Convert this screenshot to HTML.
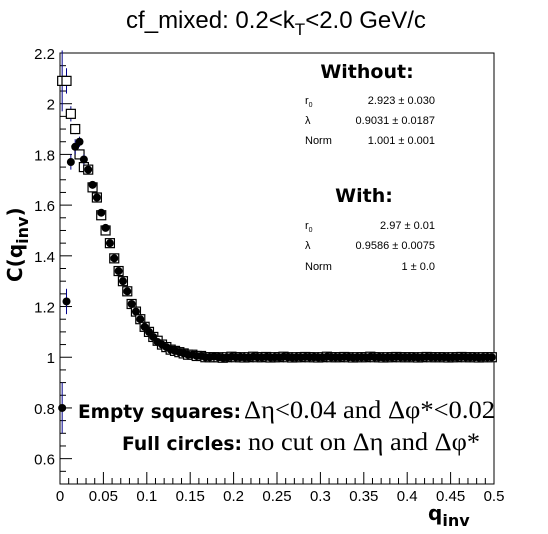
<!DOCTYPE html>
<html><head><meta charset="utf-8"><style>
body{margin:0;background:#fff;}
svg{display:block;font-family:"Liberation Sans",sans-serif;}
</style></head><body>
<svg id="chart" width="548" height="534" viewBox="0 0 548 534" xmlns="http://www.w3.org/2000/svg">
<rect width="548" height="534" fill="#fff"/>
<text x="276" y="28" font-size="24" text-anchor="middle">cf_mixed: 0.2&lt;k<tspan font-size="17" dy="7">T</tspan><tspan dy="-7">&lt;2.0 GeV/c</tspan></text>
<g id="axes"></g>
<g id="marks"></g>
<g font-size="11">
<text x="367" y="78" font-size="19" font-weight="bold" text-anchor="middle" font-family="DejaVu Sans, sans-serif">Without:</text>
<text x="305" y="104">r<tspan font-size="7" dy="3">0</tspan></text><text x="435" y="104" text-anchor="end">2.923 ± 0.030</text>
<text x="305" y="124">λ</text><text x="435" y="124" text-anchor="end">0.9031 ± 0.0187</text>
<text x="305" y="144">Norm</text><text x="435" y="144" text-anchor="end">1.001 ± 0.001</text>
<text x="364" y="202" font-size="19" font-weight="bold" text-anchor="middle" font-family="DejaVu Sans, sans-serif">With:</text>
<text x="305" y="229">r<tspan font-size="7" dy="3">0</tspan></text><text x="435" y="229" text-anchor="end">2.97 ± 0.01</text>
<text x="305" y="249">λ</text><text x="435" y="249" text-anchor="end">0.9586 ± 0.0075</text>
<text x="305" y="270">Norm</text><text x="435" y="270" text-anchor="end">1 ± 0.0</text>
</g>
<g>
<text x="78" y="418" font-size="18.8" font-weight="bold" textLength="163" lengthAdjust="spacingAndGlyphs" font-family="DejaVu Sans, sans-serif">Empty squares:</text>
<text x="244" y="418" font-size="25" textLength="251" lengthAdjust="spacingAndGlyphs" font-family="Liberation Serif, serif">Δη&lt;0.04 and Δφ*&lt;0.02</text>
<text x="122" y="450" font-size="18.8" font-weight="bold" textLength="120" lengthAdjust="spacingAndGlyphs" font-family="DejaVu Sans, sans-serif">Full circles:</text>
<text x="248" y="450" font-size="25" textLength="232" lengthAdjust="spacingAndGlyphs" font-family="Liberation Serif, serif">no cut on Δη and Δφ*</text>
</g>
<text x="428" y="520" font-size="20" font-weight="bold" font-family="DejaVu Sans, sans-serif">q<tspan font-size="16" dy="6">inv</tspan></text>
<text transform="translate(22,282) rotate(-90)" font-size="20" font-weight="bold" font-family="DejaVu Sans, sans-serif">C(q<tspan font-size="16" dy="6">inv</tspan><tspan dy="-6">)</tspan></text>
</svg>
<script>
const xTicks=[0,0.05,0.1,0.15,0.2,0.25,0.3,0.35,0.4,0.45,0.5];
const xTickLabels=["0","0.05","0.1","0.15","0.2","0.25","0.3","0.35","0.4","0.45","0.5"];
const yTicks=[0.6,0.8,1,1.2,1.4,1.6,1.8,2,2.2];
const yTickLabels=["0.6","0.8","1","1.2","1.4","1.6","1.8","2","2.2"];
const binWidth=0.005;
const circles=[0.80,1.22,1.77,1.83,1.85,1.78,1.74,1.68,1.63,1.57,1.51,1.45,1.39,1.34,1.30,1.26,1.21,1.18,1.15,1.12,1.10,1.08,1.06,1.05,1.04,1.03,1.025,1.02,1.015,1.01,1.01,1.005,1.005,1.0,1.0,1.003,1.0,0.998,1.0,1.002,1.0,1.0,0.999,1.0,1.002,1.0,1.0,1.001,0.999,1.0,1.0,1.002,1.0,0.999,1.0,1.0,1.001,1.0,1.0,0.999,1.0,1.002,1.0,1.0,1.0,1.001,1.0,0.999,1.0,1.0,1.0,1.002,1.0,1.0,0.999,1.0,1.0,1.001,1.0,1.0,1.0,1.0,0.999,1.0,1.001,1.0,1.0,1.0,1.0,0.999,1.0,1.0,1.001,1.0,1.0,1.0,0.999,1.0,1.0,1.0];
const circleErr=[0.10,0.05,0.03,0.03,0.02,0.02,0.015,0.01,0.01,0.01];
const squares=[2.09,2.09,1.96,1.90,1.80,1.75,1.74,1.67,1.63,1.56,1.50,1.45,1.39,1.34,1.30,1.26,1.21,1.18,1.15,1.12,1.10,1.08,1.065,1.05,1.04,1.03,1.025,1.02,1.015,1.01,1.01,1.005,1.005,1.0,1.0,1.0,1.0,0.998,1.0,1.002,1.0,1.0,0.999,1.0,1.002,1.0,1.0,1.001,0.999,1.0,1.0,1.002,1.0,0.999,1.0,1.0,1.001,1.0,1.0,0.999,1.0,1.002,1.0,1.0,1.0,1.001,1.0,0.999,1.0,1.0,1.0,1.002,1.0,1.0,0.999,1.0,1.0,1.001,1.0,1.0,1.0,1.0,0.999,1.0,1.001,1.0,1.0,1.0,1.0,0.999,1.0,1.0,1.001,1.0,1.0,1.0,0.999,1.0,1.0,1.0];
const squareErr=[0.12,0.05,0.03,0.02,0.02,0.015,0.01,0.01];
const X0=60,X1=494,Y0=484,Y1=53,xmin=0,xmax=0.5,ymin=0.5,ymax=2.2;
function xs(v){return X0+(v-xmin)/(xmax-xmin)*(X1-X0);}
function ys(v){return Y0-(v-ymin)/(ymax-ymin)*(Y0-Y1);}
const NS="http://www.w3.org/2000/svg";
function mk(tag,attrs,parent){const e=document.createElementNS(NS,tag);for(const k in attrs)e.setAttribute(k,attrs[k]);parent.appendChild(e);return e;}
const ax=document.getElementById('axes');
const frame=mk('rect',{x:X0,y:Y1,width:X1-X0,height:Y0-Y1,fill:'none',stroke:'#000','stroke-width':1},ax);


for(let i=0;i<=50;i++){const v=i*0.01;const len=(i%5===0)?12:6;
 const t=mk('line',{x1:xs(v),x2:xs(v),y1:Y0,y2:Y0-len,stroke:'#000'},ax);
 
 }
xTicks.forEach((v,i)=>{const t=mk('text',{x:xs(v),y:Y0+17,'font-size':15,'text-anchor':'middle'},ax);t.textContent=xTickLabels[i];
 
 });
for(let i=0;i<=34;i++){const v=0.5+i*0.05;const major=Math.abs((v*10)%2)<0.01||Math.abs((v*10)%2-2)<0.01;const len=major?12:6;
 const t=mk('line',{x1:X0,x2:X0+len,y1:ys(v),y2:ys(v),stroke:'#000'},ax);
 
 }
yTicks.forEach((v,i)=>{const t=mk('text',{x:X0-5,y:ys(v)+6,'font-size':15,'text-anchor':'end'},ax);t.textContent=yTickLabels[i];
 
 });
const mg=document.getElementById('marks');
squares.forEach((v,i)=>{const cx=xs((i+0.5)*binWidth),cy=ys(v);
 if(i<squareErr.length){const e=mk('line',{x1:cx,x2:cx,y1:ys(v+squareErr[i]),y2:ys(v-squareErr[i]),stroke:'#00008b'},mg);
  
  }
 const r=mk('rect',{x:cx-4.5,y:cy-4.5,width:9,height:9,fill:'#fff',stroke:'#000','stroke-width':1.2},mg);
 
 });
circles.forEach((v,i)=>{const cx=xs((i+0.5)*binWidth),cy=ys(v);
 if(i<circleErr.length){const e=mk('line',{x1:cx,x2:cx,y1:ys(v+circleErr[i]),y2:ys(v-circleErr[i]),stroke:'#00008b'},mg);
  
  }
 const c=mk('circle',{cx:cx,cy:cy,r:4,fill:'#000'},mg);
 
 });
</script>
</body></html>
